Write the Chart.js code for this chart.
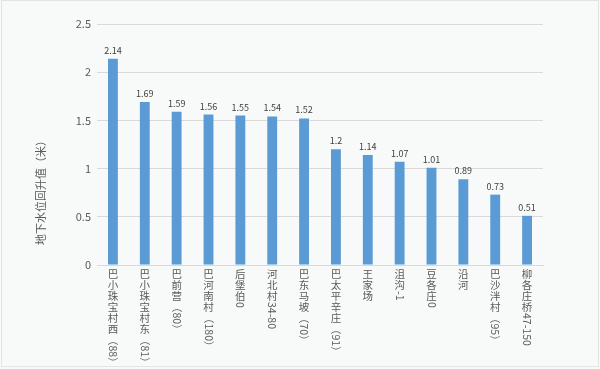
<!DOCTYPE html>
<html>
<head>
<meta charset="utf-8">
<script src="https://cdn.jsdelivr.net/npm/chart.js@4"></script>
<style>
  html, body { margin: 0; padding: 0; background: #f8f9f9; }
  #wrap { width: 600px; height: 369px; }
</style>
</head>
<body>
<div id="wrap"><canvas id="myChart"></canvas></div>
<script>
var labels = ["巴小珠宝村西（88）", "巴小珠宝村东（81）", "巴前营（80）", "巴河南村（180）", "后堡伯0",
  "河北村34-80", "巴东马坡（70）", "巴太平辛庄（91）", "王家场", "沮沟-1", "豆各庄0", "沿河",
  "巴沙泮村（95）", "柳各庄桥47-150"];
var values = [2.14, 1.69, 1.59, 1.56, 1.55, 1.54, 1.52, 1.2, 1.14, 1.07, 1.01, 0.89, 0.73, 0.51];
var yTitle = "地下水位回升值（米）";
var cjkFont = '"Noto Sans CJK SC", "Noto Sans", sans-serif';

// background + frame
var bgPlugin = {
  id: "bg",
  beforeDraw: function (chart) {
    var c = chart.ctx;
    c.save();
    c.fillStyle = "#f8f9f9";
    c.fillRect(0, 0, chart.width, chart.height);
    c.strokeStyle = "#e3e5e5";
    c.lineWidth = 1;
    c.strokeRect(1.5, 0.5, chart.width - 3, chart.height - 3);
    c.restore();
  }
};

// value labels, vertical category text, axis title
var textPlugin = {
  id: "texts",
  afterDatasetsDraw: function (chart) {
    var c = chart.ctx;
    var meta = chart.getDatasetMeta(0);
    c.save();
    c.font = "9px " + cjkFont;
    c.fillStyle = "#404040";
    c.textAlign = "center";
    c.textBaseline = "bottom";
    meta.data.forEach(function (bar, i) {
      c.fillText(values[i], bar.x, bar.y - 4);
    });

    // category labels written top to bottom
    var xs = chart.scales.x;
    c.font = "10.5px " + cjkFont;
    c.fillStyle = "#595959";
    labels.forEach(function (lab, i) {
      var x = xs.getPixelForTick(i);
      var y = xs.top + 4;
      var runs = lab.match(/[\u4e00-\u9fff]|[^\u4e00-\u9fff]+/g);
      runs.forEach(function (r) {
        if (/[\u4e00-\u9fff]/.test(r)) {
          c.textAlign = "center";
          c.textBaseline = "top";
          c.fillText(r, x, y);
          y += 11;
        } else {
          var w = c.measureText(r).width;
          c.save();
          c.translate(x, y);
          c.rotate(Math.PI / 2);
          c.textAlign = "left";
          c.textBaseline = "middle";
          c.fillText(r, 0, 0);
          c.restore();
          y += w + 1;
        }
      });
    });

    // y axis title
    c.translate(41, 190);
    c.rotate(-Math.PI / 2);
    c.font = "11px " + cjkFont;
    c.textAlign = "center";
    c.textBaseline = "middle";
    c.fillStyle = "#595959";
    c.fillText(yTitle, 0, 0);
    c.restore();
  }
};

var ctx = document.getElementById("myChart").getContext("2d");
var myChart = new Chart(ctx, {
  type: "bar",
  data: {
    labels: labels,
    datasets: [{
      data: values,
      backgroundColor: "#5b9bd5",
      categoryPercentage: 1,
      barPercentage: 0.31
    }]
  },
  options: {
    responsive: true,
    maintainAspectRatio: false,
    animation: false,
    layout: { padding: { left: 0, right: 57, top: 24, bottom: 0 } },
    plugins: { legend: { display: false }, tooltip: { enabled: false } },
    scales: {
      x: {
        grid: { display: false },
        border: { color: "#d9d9d9" },
        ticks: { display: false },
        afterFit: function (scale) { scale.height = 104; }
      },
      y: {
        min: 0,
        max: 2.5,
        ticks: {
          stepSize: 0.5,
          padding: 6,
          color: "#595959",
          font: { size: 11, family: cjkFont },
          callback: function (v) { return String(v); }
        },
        grid: { color: "#d9d9d9", drawTicks: false },
        border: { display: false },
        afterFit: function (scale) { scale.width = 97; }
      }
    }
  },
  plugins: [bgPlugin, textPlugin]
});
</script>
</body>
</html>
